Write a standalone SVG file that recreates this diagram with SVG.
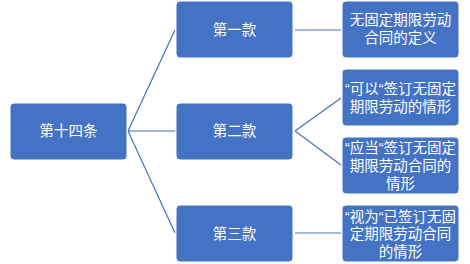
<svg xmlns="http://www.w3.org/2000/svg" width="470" height="264" viewBox="0 0 470 264">
<style>
.box{fill:#4472C4;stroke:#ffffff;stroke-width:1}
.t{font-family:"Liberation Sans","Noto Sans CJK SC",sans-serif;font-size:14.5px;fill:#ffffff;text-anchor:middle}
.c{stroke:#4472C4;stroke-width:1.2;fill:none}
</style>
<rect width="470" height="264" fill="#ffffff"/>
<g id="connectors">
<path class="c" d="M128,131 L175,30 M128,131 L175,131 M128,131 L175,233"/>
<path class="c" d="M295,30 L341,30 M295,131 L341,98 M295,131 L341,165 M295,233 L341,233"/>
</g>
<g id="n14"><rect class="box" x="10" y="103" width="117" height="57" rx="4"/><text class="t" x="68.5" y="136">第十四条</text></g>
<g id="k1"><rect class="box" x="176" y="1" width="117" height="57" rx="4"/><text class="t" x="234.5" y="34.5">第一款</text></g>
<g id="k2"><rect class="box" x="176" y="103" width="117" height="57" rx="4"/><text class="t" x="234.5" y="136">第二款</text></g>
<g id="k3"><rect class="box" x="176" y="205" width="117" height="57" rx="4"/><text class="t" x="234.5" y="238.5">第三款</text></g>
<g id="d1"><rect class="box" x="342" y="1" width="117" height="57" rx="4"/><text class="t" x="400.5" y="25">无固定期限劳动</text><text class="t" x="400.5" y="43">合同的定义</text></g>
<g id="d2"><rect class="box" x="342" y="69" width="117" height="57" rx="4"/><text class="t" x="400.5" y="93.5">“可以“签订无固定</text><text class="t" x="400.5" y="111.5">期限劳动的情形</text></g>
<g id="d3"><rect class="box" x="342" y="137" width="117" height="57" rx="4"/><text class="t" x="400.5" y="152.5">“应当“签订无固定</text><text class="t" x="400.5" y="170.5">期限劳动合同的</text><text class="t" x="400.5" y="188.5">情形</text></g>
<g id="d4"><rect class="box" x="342" y="205" width="117" height="57" rx="4"/><text class="t" x="400.5" y="221.5">“视为“已签订无固</text><text class="t" x="400.5" y="239">定期限劳动合同</text><text class="t" x="400.5" y="256.5">的情形</text></g>
</svg>
